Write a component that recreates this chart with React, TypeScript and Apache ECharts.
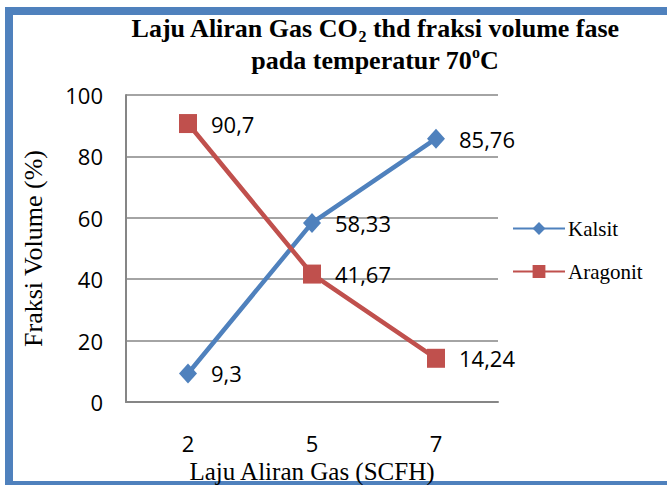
import React, { useEffect, useRef } from "react";
import * as echarts from "echarts";

const categories = ["2", "5", "7"];
const kalsit = [9.3, 58.33, 85.76];
const aragonit = [90.7, 41.67, 14.24];
const kalsitLabels = ["9,3", "58,33", "85,76"];
const aragonitLabels = ["90,7", "41,67", "14,24"];

const SANS = "'Open Sans', 'Noto Sans', sans-serif";
const SERIF = "'Liberation Serif', 'DejaVu Serif', serif";

export default function App() {
  const ref = useRef<HTMLDivElement>(null);
  useEffect(() => {
    if (!ref.current) return;
    const chart = echarts.init(ref.current, null, { renderer: "svg" });
    const labelStyle = (texts: string[]) => ({
      show: true,
      position: "right" as const,
      distance: 14,
      fontFamily: SANS,
      fontSize: 22,
      color: "#000",
      formatter: (p: any) => texts[p.dataIndex],
    });
    const tt = { fontFamily: SERIF, fontWeight: "bold", fontSize: 26, color: "#000", lineHeight: 32 };
    chart.setOption({
      animation: false,
      backgroundColor: "#fff",
      title: {
        text: "{t|Laju Aliran Gas CO}{sub|2}{t| thd fraksi volume fase}\n{t|pada temperatur 70}{sup|o}{t|C}",
        left: 370,
        textAlign: "center",
        top: 7,
        textStyle: {
          rich: {
            t: tt,
            sub: { ...tt, fontSize: 16, verticalAlign: "bottom", padding: [12, 0, 0, 0] },
            sup: { ...tt, fontSize: 16, verticalAlign: "top", padding: [0, 0, 12, 0] },
          },
        },
      },
      graphic: [
        {
          type: "rect",
          shape: { x: 9, y: 11, width: 700, height: 474 },
          style: { fill: "none", stroke: "#4F81BD", lineWidth: 8 },
          silent: true,
        },
      ],
      legend: {
        orient: "vertical",
        left: 507,
        top: 213,
        itemGap: 22,
        itemWidth: 52,
        itemHeight: 16,
        textStyle: { fontFamily: SERIF, fontSize: 21, color: "#000", padding: [0, 0, 0, -2] },
        data: ["Kalsit", "Aragonit"],
      },
      grid: { left: 126, right: 169, top: 95, bottom: 83, outerBoundsMode: "none" },
      xAxis: {
        type: "category",
        data: categories,
        boundaryGap: true,
        axisLine: { lineStyle: { color: "#868686", width: 2 } },
        axisTick: { show: false },
        axisLabel: { margin: 30, fontFamily: SANS, fontSize: 22, color: "#000" },
        name: "Laju Aliran Gas (SCFH)",
        nameLocation: "middle",
        nameGap: 49,
        nameTextStyle: { fontFamily: SERIF, fontSize: 25, color: "#000" },
      },
      yAxis: {
        type: "value",
        min: 0,
        max: 100,
        interval: 20,
        axisLine: { show: true, lineStyle: { color: "#868686", width: 2 } },
        axisTick: { show: false },
        splitLine: { lineStyle: { color: "#868686", width: 1.5 } },
        axisLabel: { margin: 23, fontFamily: SANS, fontSize: 22, color: "#000" },
        name: "Fraksi Volume (%)",
        nameLocation: "middle",
        nameGap: 80,
        nameTextStyle: { fontFamily: SERIF, fontSize: 26, color: "#000" },
      },
      series: [
        {
          name: "Kalsit",
          type: "line",
          data: kalsit,
          symbol: "diamond",
          symbolSize: [18, 20],
          lineStyle: { color: "#4F81BD", width: 4.5 },
          itemStyle: { color: "#4F81BD" },
          label: labelStyle(kalsitLabels),
        },
        {
          name: "Aragonit",
          type: "line",
          data: aragonit,
          symbol: "rect",
          symbolSize: [18, 19],
          lineStyle: { color: "#C0504D", width: 4.5 },
          itemStyle: { color: "#C0504D" },
          label: labelStyle(aragonitLabels),
        },
      ],
    });
    return () => chart.dispose();
  }, []);
  return (
    <div
      ref={ref}
      style={{ position: "fixed", left: 0, top: 0, width: 667, height: 485 }}
    />
  );
}
